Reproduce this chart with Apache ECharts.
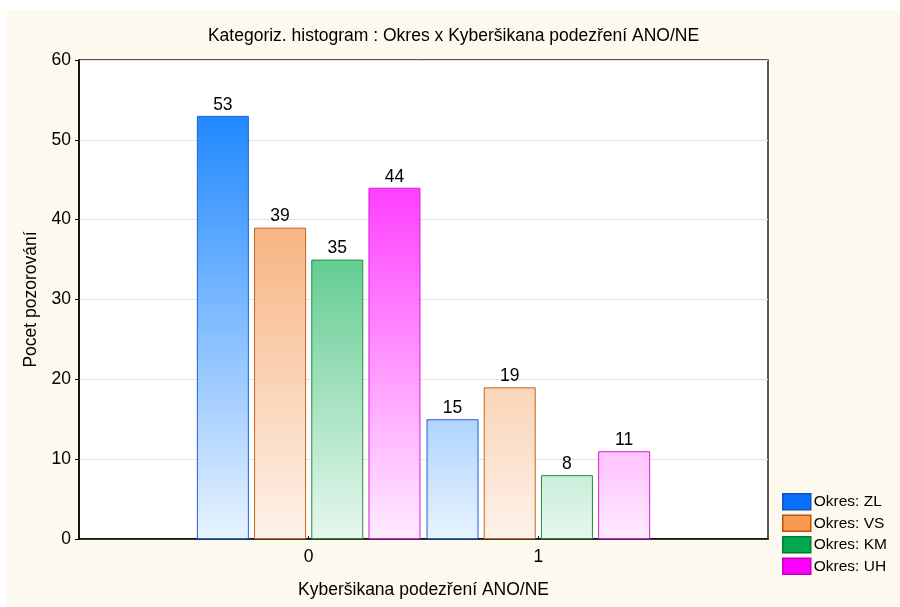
<!DOCTYPE html>
<html>
<head>
<meta charset="utf-8">
<script src="https://cdn.jsdelivr.net/npm/echarts@6/dist/echarts.min.js"></script>
<style>
  html, body { margin: 0; padding: 0; background: #fff; }
  #chart { position: absolute; left: 7px; top: 10px; width: 893px; height: 597px; background: #fdf9ef; }
</style>
</head>
<body>
<div id="chart"></div>
<script>
// axis runs from -1 to 2, only 0 and 1 carry bars
const categories = ['', '0', '1', '']
const seriesNames = ['Okres: ZL', 'Okres: VS', 'Okres: KM', 'Okres: UH']
const valuesZL = [null, 53, 15, null]
const valuesVS = [null, 39, 19, null]
const valuesKM = [null, 35, 8, null]
const valuesUH = [null, 44, 11, null]
const yTicks = { min: 0, max: 60, interval: 10 }

const FONT = 'Liberation Sans, Arial, sans-serif'
const GRID = { left: 72, right: 132, top: 50, bottom: 68 }
const H = 597
const styles = [
  { top: '#067aff', bottom: '#e8f3ff', border: '#1f5fd8', legend: '#0a6fff', legendBorder: '#1050c0' },
  { top: '#f4944a', bottom: '#fdf2ea', border: '#c8651e', legend: '#f89a50', legendBorder: '#c05000' },
  { top: '#04af52', bottom: '#e8f7ee', border: '#2a8a3c', legend: '#00a850', legendBorder: '#007a30' },
  { top: '#ff00ff', bottom: '#ffedff', border: '#d81ad8', legend: '#ff00ff', legendBorder: '#c000c0' },
]
const allValues = [valuesZL, valuesVS, valuesKM, valuesUH]

const chart = echarts.init(document.getElementById('chart'))

const series = allValues.map((vals, i) => {
  const s = styles[i]
  return {
    name: seriesNames[i],
    type: 'bar',
    data: vals,
    barWidth: 52,
    barGap: '10%',
    itemStyle: {
      // gradient spans the whole plot height, not each bar
      color: new echarts.graphic.LinearGradient(0, GRID.top, 0, H - GRID.bottom, [
        { offset: 0, color: s.top },
        { offset: 1, color: s.bottom },
      ], true),
      borderColor: s.border,
      borderWidth: 1,
    },
    label: {
      show: true, position: 'top', distance: 2,
      color: '#000', fontSize: 17.5, fontFamily: FONT,
    },
    emphasis: { disabled: true },
  }
})

chart.setOption({
  animation: false,
  textStyle: { fontFamily: FONT },
  title: {
    text: 'Kategoriz. histogram : Okres x Kyberšikana podezření ANO/NE',
    left: 'center', top: 12,
    textStyle: { fontSize: 17.5, fontWeight: 'normal', color: '#000', fontFamily: FONT },
  },
  legend: {
    data: seriesNames.map((n, i) => ({
      name: n,
      itemStyle: { color: styles[i].legend, borderColor: styles[i].legendBorder, borderWidth: 1.5 },
    })),
    orient: 'vertical',
    left: 770, top: 478,
    itemWidth: 28, itemHeight: 16,
    itemGap: 4,
    icon: 'rect',
    textStyle: { fontSize: 15.5, color: '#000', fontFamily: FONT, padding: [0, 0, 0, -2] },
    selectedMode: false,
  },
  grid: {
    ...GRID,
    show: true, backgroundColor: '#fff', borderColor: '#222', borderWidth: 1.5,
  },
  xAxis: {
    type: 'category',
    data: categories,
    boundaryGap: false,
    name: 'Kyberšikana podezření ANO/NE',
    nameLocation: 'middle', nameGap: 42,
    nameTextStyle: { fontSize: 17.5, color: '#000' },
    axisLine: { lineStyle: { color: '#000', width: 1.5 } },
    axisTick: {
      inside: true, length: 3, lineStyle: { color: '#000' },
      interval: (idx) => idx === 1 || idx === 2,
    },
    axisLabel: { fontSize: 17.5, color: '#000', margin: 9, interval: 0 },
    splitLine: { show: false },
  },
  yAxis: {
    type: 'value',
    min: yTicks.min, max: yTicks.max, interval: yTicks.interval,
    name: 'Pocet pozorování',
    nameLocation: 'middle', nameGap: 39,
    nameTextStyle: { fontSize: 17.5, color: '#000' },
    axisLine: { show: true, lineStyle: { color: '#000', width: 1.5 } },
    axisTick: { show: true, length: 4, lineStyle: { color: '#000' } },
    axisLabel: { fontSize: 17.5, color: '#000', margin: 8 },
    splitLine: { lineStyle: { color: '#e2e2e2', width: 1 } },
  },
  series,
})
</script>
</body>
</html>
